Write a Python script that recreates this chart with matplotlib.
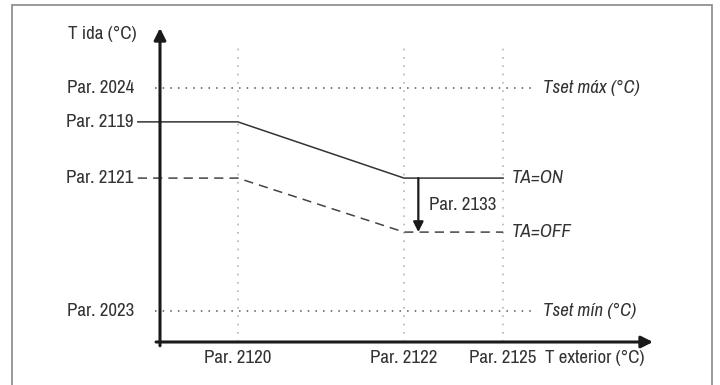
import matplotlib
matplotlib.use('Agg')
import matplotlib.pyplot as plt
from matplotlib.patches import Rectangle

plt.rcParams['font.family'] = ['Archivo Narrow', 'Roboto Condensed', 'DejaVu Sans']

# posiciones en el eje (0..100 a lo largo de cada eje)
x_params = ['Par. 2120', 'Par. 2122', 'Par. 2125']
x_pos = [15.8, 49.5, 69.6]
y_params = ['Par. 2023', 'Par. 2121', 'Par. 2119', 'Par. 2024']
y_pos = [9.9, 52.2, 70.1, 80.9]

# curvas de calefaccion
curve_on_x = [-4.5, 15.8, 49.5, 69.6]
curve_on_y = [70.1, 70.1, 52.2, 52.2]
curve_off_x = [-4.5, 15.8, 49.5, 69.6]
curve_off_y = [52.2, 52.2, 35.0, 35.0]
shift_x = 52.4  # flecha Par. 2133

txt = '#333333'
fs = 13.6
fig = plt.figure(figsize=(7.2, 3.85), dpi=100)
fig.patches.append(Rectangle((12 / 720, -0.1), 700 / 720, 1.1 - 5 / 385, transform=fig.transFigure,
                             fill=False, edgecolor='#888888', linewidth=1.2))

ax = fig.add_axes((160 / 720, 43 / 385, 493 / 720, 314 / 385))
ax.set_xlim(0, 100)
ax.set_ylim(0, 100)
ax.axis('off')

# ejes con flecha
ax.annotate('', xy=(100, 0), xytext=(-0.8, 0), arrowprops=dict(arrowstyle='-|>,head_length=0.7,head_width=0.35',
                                                                  color='#1a1a1a', lw=2.2, shrinkA=0, shrinkB=0))
ax.annotate('', xy=(0, 100), xytext=(0, -1.2), arrowprops=dict(arrowstyle='-|>,head_length=0.7,head_width=0.35',
                                                                  color='#1a1a1a', lw=2.2, shrinkA=0, shrinkB=0))

# lineas verticales de referencia
for xp, lab in zip(x_pos, x_params):
    ax.plot([xp, xp], [0, 95.2], color='#b5b5b5', lw=1.2, ls=(0, (1, 4)))
    ax.text(xp, -5.0, lab, ha='center', va='center', fontsize=fs, color=txt)
ax.text(78.0, -5.0, 'T exterior (°C)', ha='left', va='center', fontsize=fs, color=txt)

# limites Tset
for yp, lab in [(y_pos[3], 'Tset máx (°C)'), (y_pos[0], 'Tset mín (°C)')]:
    ax.plot([-1, 76.5], [yp, yp], color='#555555', lw=1.1, ls=(0, (1, 4)), clip_on=False)
    ax.text(77.6, yp, lab, ha='left', va='center', fontsize=fs, color=txt, style='italic')

for yp, lab in zip(y_pos, y_params):
    ax.text(-5.3, yp, lab, ha='right', va='center', fontsize=fs, color=txt)
ax.text(-4.7, 98, 'T ida (°C)', ha='right', va='center', fontsize=fs, color=txt)

ax.plot(curve_on_x, curve_on_y, color='#333333', lw=1.1, clip_on=False)
ax.plot(curve_off_x, curve_off_y, color='#444444', lw=1.1, ls=(0, (6, 4)), clip_on=False)

ax.annotate('', xy=(shift_x, curve_off_y[-1]), xytext=(shift_x, curve_on_y[-1]),
            arrowprops=dict(arrowstyle='-|>,head_length=0.6,head_width=0.3', color='#1a1a1a', lw=1.6,
                            shrinkA=0, shrinkB=0))
ax.text(54.6, 43.6, 'Par. 2133', ha='left', va='center', fontsize=fs, color=txt)
ax.text(71.4, curve_on_y[-1], 'TA=ON', ha='left', va='center', fontsize=fs, color=txt, style='italic')
ax.text(71.4, curve_off_y[-1], 'TA=OFF', ha='left', va='center', fontsize=fs, color=txt, style='italic')

fig.savefig('out.png', dpi=100)
